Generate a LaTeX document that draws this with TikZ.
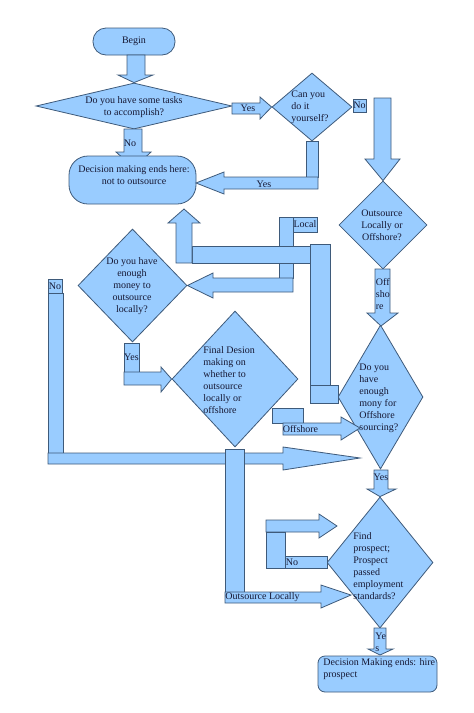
\documentclass[tikz,border=0pt]{standalone}
\usepackage{fontspec}
\setmainfont{Liberation Serif}
\usetikzlibrary{shapes.geometric}
\definecolor{boxblue}{RGB}{153,204,255}
\definecolor{lineblue}{RGB}{62,90,122}
\definecolor{inkblue}{RGB}{22,24,52}
\begin{document}
\begin{tikzpicture}[x=1pt, y=-1pt, line width=0.8pt,
  blk/.style={fill=boxblue, draw=lineblue},
  dia/.style={blk, diamond, inner sep=0pt},
  txt/.style={inner sep=0pt, font=\fontsize{10}{12}\selectfont, text=inkblue}]
  \useasboundingbox (0,0) rectangle (474,713);

  \node[blk, txt, rounded corners=13pt, minimum width=82pt, minimum height=27pt] (begin) at (134,41.5) {Begin};

  \node[dia, minimum width=196pt, minimum height=46pt] (d1) at (134,106) {};
  \node[txt, align=center] (d1t) at (134,107) {Do you have some tasks\\to accomplish?};
  \node[dia, minimum width=80pt, minimum height=68pt] (d2) at (312,107) {};
  \node[txt, align=left, anchor=west] (d2t) at (291,107) {Can you\\do it\\yourself?};
  \node[dia, minimum width=88pt, minimum height=88pt] (d3) at (383,225) {};
  \node[txt, align=center] (d3t) at (382,225) {Outsource\\Locally or\\Offshore?};
  \node[dia, minimum width=85pt, minimum height=144pt] (d4) at (380.5,397) {};
  \node[txt, align=left, anchor=west] (d4t) at (359,398) {Do you\\have\\enough\\mony for\\Offshore\\sourcing?};
  \node[dia, minimum width=109pt, minimum height=113pt] (d5) at (132.5,285.5) {};
  \node[txt, align=center] (d5t) at (132,286) {Do you have\\enough\\money to\\outsource\\locally?};
  \node[dia, minimum width=126pt, minimum height=136pt] (d6) at (235,379) {};
  \node[txt, align=left, anchor=west] (d6t) at (203,380) {Final Desion\\making on\\whether to\\outsource\\locally or\\offshore};
  \node[dia, minimum width=106pt, minimum height=131pt] (d7) at (380,562.5) {};
  \node[txt, align=left, anchor=west] (d7t) at (353,566) {Find\\prospect;\\Prospect\\passed\\employment\\standards?};

  \draw[blk] (127,55) -- (145,55) -- (145,75) -- (153,75) -- (d1.north) -- (118,75) -- (127,75) -- cycle;

  \draw[blk] (232,103) -- (260,103) -- (260,97) -- (d2.west) -- (260,119) -- (260,114) -- (232,114) -- cycle;
  \node[txt] (yes1) at (248,108.5) {Yes};

  \draw[blk] (124,129) -- (142,129) -- (142,152) -- (151,152) -- (134,168) -- (116,152) -- (124,152) -- cycle;
  \node[txt] (no1) at (130,143) {No};

  \node[blk, txt, rounded corners=19pt, minimum width=127pt, minimum height=48pt] (t2) at (132.5,180) {};
  \node[txt, align=center] (t2t) at (134,175.5) {Decision making ends here:\\not to outsource};

  \draw[blk] (306,141) rectangle (318,177);
  \draw[blk] (318,177) -- (318,189) -- (224,189) -- (224,194) -- (196,183) -- (224,172) -- (224,177) -- cycle;
  \node[txt] (yes2) at (264,184) {Yes};

  \node[blk, txt, minimum width=13pt, minimum height=13pt] (no2) at (359.5,105.5) {No};
  \draw[blk] (374,98) -- (391,98) -- (391,159) -- (400,159) -- (d3.north) -- (365,159) -- (374,159) -- cycle;

  \draw[blk] (375,269) -- (390,269) -- (390,313) -- (398,313) -- (381,326) -- (367,313) -- (375,313) -- cycle;
  \node[txt, align=left, anchor=west] (off1) at (375.5,294) {Off\\sho\\re};

  \draw[blk] (279,217) rectangle (293,278);
  \node[blk, txt, minimum width=24pt, minimum height=15pt] (local) at (305,224.5) {Local};
  \draw[blk] (293,278) -- (293,292) -- (213,292) -- (213,298) -- (d5.east) -- (213,273) -- (213,278) -- cycle;

  \draw[blk] (192,246) rectangle (310,263);
  \draw[blk] (176,263) -- (176,223) -- (168,223) -- (184,209) -- (200,223) -- (192,223) -- (192,263) -- cycle;
  \draw[blk] (310,244) rectangle (330,385);
  \draw[blk] (310,385) rectangle (338,403);

  \node[blk, txt, minimum width=14pt, minimum height=14pt] (no3) at (55,286) {No};
  \draw[blk] (48,293) rectangle (63,453);
  \draw[blk] (48,453) -- (283,453) -- (283,447) -- (360,458) -- (283,470) -- (283,464) -- (48,464) -- cycle;

  \node[blk, txt, minimum width=15pt, minimum height=29pt] (yes3) at (131.5,357.5) {Yes};
  \draw[blk] (124,372) -- (161,372) -- (161,367) -- (d6.west) -- (161,392) -- (161,385) -- (124,385) -- cycle;

  \draw[blk] (272,408) rectangle (303,423);
  \draw[blk] (283,423) -- (341,423) -- (341,417) -- (360,428) -- (341,440) -- (341,435) -- (283,435) -- cycle;
  \node[txt] (off2) at (300.5,429) {Offshore};

  \draw[blk] (225,449) rectangle (244,592);
  \draw[blk] (225,592) -- (321,592) -- (321,585) -- (351,595) -- (321,608) -- (321,603) -- (225,603) -- cycle;
  \node[txt, anchor=west] (loc2) at (225,597.5) {Outsource Locally};

  \draw[blk] (374,470) -- (388,470) -- (388,489) -- (396,489) -- (d7.north) -- (367,489) -- (374,489) -- cycle;
  \node[txt] (yes4) at (381,477) {Yes};

  \draw[blk] (266,520) -- (319,520) -- (319,514) -- (337,526) -- (319,538) -- (319,532) -- (266,532) -- cycle;
  \draw[blk] (266,532) rectangle (285,568);
  \draw[blk] (285,556) rectangle (327,568);
  \node[txt, anchor=west] (no4) at (285.5,562) {No};

  \draw[blk] (374,628) -- (386,628) -- (386,649) -- (393,649) -- (380,655) -- (368,649) -- (374,649) -- cycle;
  \node[txt, align=left, anchor=west] (yes5) at (375,642) {Ye\\s};

  \node[blk, rounded corners=7pt, minimum width=119pt, minimum height=36pt] (t3) at (377.5,674) {};
  \node[txt, align=left, anchor=west] (t3t) at (323,669) {Decision Making ends: hire\\prospect};
\end{tikzpicture}
\end{document}
